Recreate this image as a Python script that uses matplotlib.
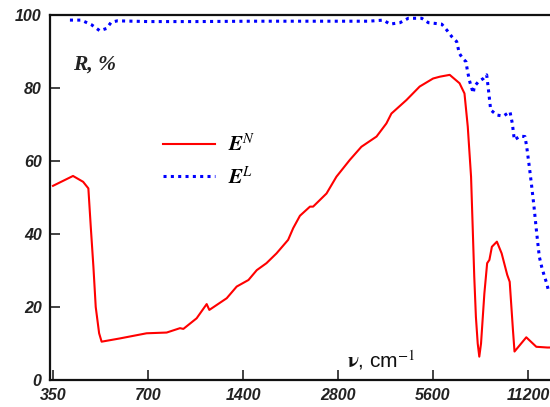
import matplotlib
matplotlib.use("Agg")
import matplotlib.pyplot as plt
from matplotlib.ticker import FixedLocator, NullLocator

plt.rcParams["mathtext.fontset"] = "stix"

# Reflectance spectra, wavenumber (cm^-1) vs R (%)
nu_N = [350, 405, 436, 453, 461, 470, 478, 490, 499, 571, 693, 802, 884, 906,
        998, 1074, 1095, 1243, 1337, 1457, 1548, 1661, 1788, 1946, 2019, 2121,
        2282, 2335, 2575, 2768, 3052, 3321, 3709, 3986, 4134, 4613, 5081, 5603,
        5887, 6326, 6797, 7046, 7217, 7392, 7480, 7567, 7658, 7760, 7850, 7950,
        8146, 8313, 8450, 8606, 8925, 9240, 9625, 9800, 10035, 10150, 11060,
        11900, 12900, 13150]
R_N = [53.2, 55.9, 54.3, 52.5, 42.0, 31.0, 20.0, 12.8, 10.5, 11.4, 12.8, 13.0,
       14.2, 14.0, 16.9, 20.8, 19.2, 22.4, 25.6, 27.4, 30.1, 32.0, 34.7, 38.4,
       41.6, 45.0, 47.5, 47.5, 51.1, 55.7, 60.3, 63.9, 66.7, 70.3, 73.0, 76.7,
       80.4, 82.6, 83.1, 83.6, 81.3, 78.5, 69.4, 55.7, 42.0, 28.3, 17.3, 10.0,
       6.4, 10.0, 23.7, 32.0, 32.9, 36.5, 37.9, 34.7, 28.8, 26.9, 13.7, 7.8,
       11.7, 9.1, 8.9, 8.9]

nu_L = [396, 430, 464, 492, 517, 535, 560, 700, 1000, 1500, 2000, 2800, 3500,
        3900, 4091, 4402, 4676, 5157, 5412, 5683, 5967, 6189, 6418, 6657, 6784,
        6955, 7124, 7193, 7299, 7374, 7514, 7567, 7795, 8085, 8285, 8383, 8530,
        8914, 9352, 9821, 9989, 10136, 10567, 10955, 11095, 11310, 11508,
        11701, 11935, 12163, 12376, 12586, 12835, 12985]
R_L = [98.6, 98.6, 97.3, 95.7, 96.3, 98.0, 98.4, 98.2, 98.2, 98.3, 98.3, 98.3,
       98.3, 98.6, 97.5, 97.9, 99.1, 99.1, 97.9, 97.7, 97.5, 95.9, 94.1, 92.7,
       89.5, 88.1, 87.2, 84.9, 82.2, 80.8, 78.6, 80.4, 81.7, 82.6, 83.6, 79.9,
       74.0, 72.6, 72.3, 73.5, 70.3, 65.8, 66.8, 66.7, 63.9, 58.4, 53.0, 47.5,
       40.2, 33.8, 31.0, 28.8, 26.5, 24.7]

x_ticks = [350, 700, 1400, 2800, 5600, 11200]
y_ticks = [0, 20, 40, 60, 80, 100]

W, H = 550, 407
fig = plt.figure(figsize=(W / 100, H / 100), dpi=100)
ax = fig.add_axes([50 / W, (H - 380) / H, 500 / W, 365 / H])

ax.plot(nu_N, R_N, color="#ff0000", lw=1.5, label=r"$\mathbfit{E}^{N}$")
ax.plot(nu_L, R_L, color="#0000ff", lw=2.2, linestyle=(0, (1, 1.4)),
        dash_capstyle="butt", label=r"$\mathbfit{E}^{L}$")

ax.set_xscale("log")
ax.set_xlim(342.4, 13150)
ax.set_ylim(0, 100)
ax.xaxis.set_major_locator(FixedLocator(x_ticks))
ax.xaxis.set_minor_locator(NullLocator())
ax.set_xticklabels([str(t) for t in x_ticks])
ax.set_yticks(y_ticks)
ax.set_yticklabels([str(t) for t in y_ticks])

for lab in ax.get_xticklabels() + ax.get_yticklabels():
    lab.set_fontfamily("Liberation Sans")
    lab.set_fontweight("bold")
    lab.set_fontstyle("italic")
    lab.set_fontsize(11.5)
    lab.set_color("#222222")

ax.tick_params(axis="both", direction="in", length=7, width=1.2,
               color="#222222")
ax.tick_params(axis="x", pad=6)
ax.tick_params(axis="y", pad=6)

for side in ("left", "bottom", "top"):
    ax.spines[side].set_linewidth(1.6)
    ax.spines[side].set_color("#111111")
ax.spines["right"].set_visible(False)

fig.text(347 / W, (H - 367) / H, r"$\mathbf{\nu}$, cm$^{-1}$",
         fontsize=15, fontfamily="Liberation Sans", color="#111111")

ax.legend(loc="upper left", bbox_to_anchor=(163 / W, (H - 133) / H),
          bbox_transform=fig.transFigure, frameon=False, fontsize=15,
          handlelength=2.5, handletextpad=0.6, borderpad=0, borderaxespad=0,
          labelspacing=0.5)

fig.text(73 / W, (H - 70) / H, "R, %", fontsize=15.5,
         fontfamily="Liberation Serif", fontweight="bold", fontstyle="italic",
         color="#222222")

fig.savefig("out.png", dpi=100)
